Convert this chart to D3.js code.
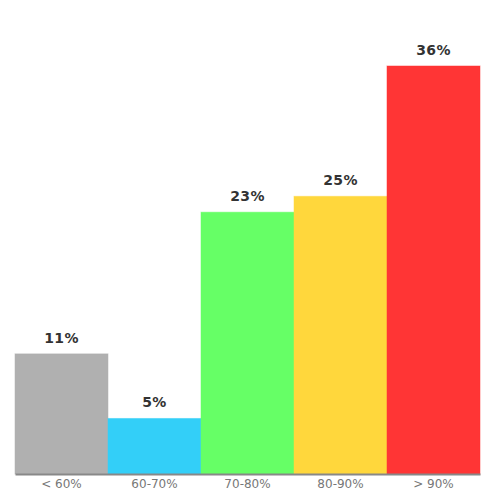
<!DOCTYPE html>
<html>
<head>
<meta charset="utf-8">
<script src="https://cdn.jsdelivr.net/npm/d3@7"></script>
<style>
  body { margin: 0; background: #fff; }
  text { font-family: "DejaVu Sans", sans-serif; }
</style>
</head>
<body>
<div id="chart-area"></div>
<script>
var categories = ["< 60%", "60-70%", "70-80%", "80-90%", "> 90%"];
var values = [10.6, 4.9, 23.1, 24.5, 36.0];
var colors = ["#b0b0b0", "#33cff8", "#66ff66", "#ffd73c", "#ff3535"];

var width = 500;
var height = 500;
var margin = {top: 66, right: 20, bottom: 26, left: 15};

var svg = d3.select("#chart-area").append("svg")
    .attr("width", width)
    .attr("height", height);

var g = svg.append("g")
    .attr("transform", "translate(" + margin.left + ", " + margin.top + ")");

var w = width - margin.left - margin.right;
var h = height - margin.top - margin.bottom;

var x = d3.scaleBand()
    .domain(categories)
    .range([0, w])
    .padding(0);

var y = d3.scaleLinear()
    .domain([0, d3.max(values)])
    .range([h, 0]);

var data = categories.map((c, i) => { return {cat: c, value: values[i], color: colors[i]}; });

g.selectAll("rect")
    .data(data)
    .enter()
    .append("rect")
        .attr("x", (d) => { return x(d.cat); })
        .attr("y", (d) => { return y(d.value); })
        .attr("width", x.bandwidth())
        .attr("height", (d) => { return h - y(d.value); })
        .attr("fill", (d) => { return d.color; })
        .attr("stroke", (d) => { return d.color; })
        .attr("stroke-opacity", 0.5)
        .attr("stroke-width", 1);

g.selectAll(".value-label")
    .data(data)
    .enter()
    .append("text")
        .attr("class", "value-label")
        .attr("x", (d) => { return x(d.cat) + x.bandwidth() / 2; })
        .attr("y", (d) => { return y(d.value) - 11; })
        .attr("text-anchor", "middle")
        .attr("font-size", "14px")
        .attr("font-weight", "bold")
        .attr("letter-spacing", "0.4px")
        .attr("fill", "#333")
        .text((d) => { return Math.round(d.value) + "%"; });

var xAxisGroup = g.append("g")
    .attr("transform", "translate(0, " + h + ")")
    .call(d3.axisBottom(x).tickSize(0).tickPadding(5));

xAxisGroup.select(".domain")
    .attr("stroke", "#888")
    .attr("stroke-width", 2);

xAxisGroup.selectAll("text")
    .attr("font-size", "12px")
    .attr("fill", "#777");
</script>
</body>
</html>
